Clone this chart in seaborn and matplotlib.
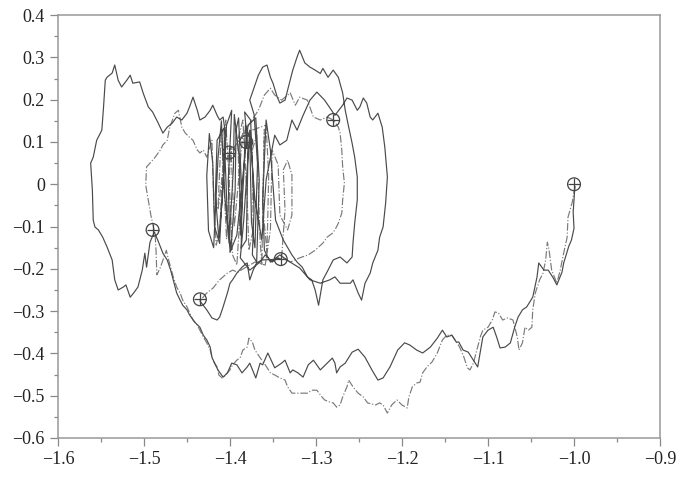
import numpy as np
import pandas as pd
import seaborn as sns
import matplotlib.pyplot as plt
from matplotlib.ticker import MultipleLocator

# solid trajectory
solid_arc = [(-0.999, -0.005), (-1.000, -0.037), (-1.001, -0.066), (-1.000, -0.104), (-1.003, -0.132),
             (-1.006, -0.146), (-1.012, -0.186), (-1.014, -0.208), (-1.020, -0.238), (-1.024, -0.222),
             (-1.030, -0.203), (-1.035, -0.203), (-1.041, -0.186), (-1.043, -0.219), (-1.048, -0.267),
             (-1.055, -0.290), (-1.060, -0.297), (-1.065, -0.314), (-1.069, -0.338), (-1.074, -0.375),
             (-1.080, -0.385), (-1.086, -0.387), (-1.090, -0.361), (-1.094, -0.338), (-1.100, -0.345),
             (-1.106, -0.361), (-1.112, -0.432), (-1.117, -0.416), (-1.123, -0.397), (-1.129, -0.392),
             (-1.134, -0.373), (-1.137, -0.373), (-1.142, -0.357), (-1.148, -0.361), (-1.153, -0.345),
             (-1.159, -0.364)]
solid_bottom = [(-1.167, -0.385), (-1.176, -0.399), (-1.183, -0.392), (-1.191, -0.380), (-1.197, -0.375),
                (-1.205, -0.392), (-1.214, -0.432), (-1.222, -0.458), (-1.228, -0.463), (-1.235, -0.439),
                (-1.243, -0.409), (-1.251, -0.390), (-1.258, -0.397), (-1.266, -0.423), (-1.272, -0.432),
                (-1.276, -0.446), (-1.278, -0.423), (-1.281, -0.411), (-1.287, -0.423), (-1.295, -0.439),
                (-1.303, -0.416), (-1.309, -0.427), (-1.315, -0.456), (-1.321, -0.446), (-1.327, -0.439),
                (-1.330, -0.446), (-1.336, -0.416), (-1.340, -0.423), (-1.348, -0.434), (-1.356, -0.399),
                (-1.362, -0.427), (-1.365, -0.423), (-1.370, -0.458), (-1.377, -0.423), (-1.380, -0.432),
                (-1.386, -0.446), (-1.392, -0.427), (-1.398, -0.423), (-1.403, -0.446), (-1.408, -0.456),
                (-1.414, -0.439), (-1.417, -0.427), (-1.421, -0.409), (-1.423, -0.385), (-1.427, -0.368),
                (-1.431, -0.357), (-1.435, -0.338), (-1.441, -0.326), (-1.447, -0.309), (-1.450, -0.297),
                (-1.455, -0.286), (-1.458, -0.274), (-1.462, -0.257), (-1.465, -0.234), (-1.469, -0.203),
                (-1.473, -0.179), (-1.478, -0.163), (-1.484, -0.132), (-1.488, -0.113)]
solid_left = [(-1.493, -0.137), (-1.497, -0.196), (-1.499, -0.163), (-1.502, -0.203), (-1.507, -0.243),
              (-1.512, -0.257), (-1.516, -0.267), (-1.521, -0.238), (-1.524, -0.243), (-1.530, -0.250),
              (-1.534, -0.226), (-1.537, -0.179), (-1.543, -0.148), (-1.548, -0.125), (-1.553, -0.108),
              (-1.557, -0.101), (-1.559, -0.085), (-1.560, -0.014), (-1.562, 0.050), (-1.559, 0.064),
              (-1.555, 0.104), (-1.549, 0.128), (-1.547, 0.183), (-1.545, 0.246), (-1.543, 0.253),
              (-1.537, 0.263), (-1.534, 0.282), (-1.530, 0.246), (-1.526, 0.230), (-1.520, 0.246),
              (-1.516, 0.258), (-1.513, 0.239), (-1.505, 0.242), (-1.501, 0.216), (-1.495, 0.183),
              (-1.490, 0.171), (-1.484, 0.147), (-1.478, 0.121), (-1.473, 0.135), (-1.467, 0.145),
              (-1.462, 0.159), (-1.456, 0.152), (-1.450, 0.168), (-1.447, 0.183), (-1.443, 0.206),
              (-1.438, 0.175), (-1.435, 0.152), (-1.429, 0.159), (-1.423, 0.175), (-1.420, 0.187),
              (-1.415, 0.163), (-1.412, 0.152), (-1.408, 0.159)]
solid_center = [(-1.405, 0.116), (-1.409, -0.037), (-1.413, -0.127), (-1.417, -0.026), (-1.415, 0.104),
                (-1.407, 0.133), (-1.403, -0.085), (-1.399, -0.156), (-1.394, -0.014), (-1.393, 0.128),
                (-1.390, 0.157), (-1.386, -0.037), (-1.387, -0.151), (-1.381, -0.132), (-1.379, 0.081),
                (-1.383, 0.171), (-1.376, 0.152), (-1.372, -0.061), (-1.374, -0.167), (-1.369, -0.184),
                (-1.366, 0.010), (-1.370, 0.157), (-1.379, 0.140), (-1.392, -0.120), (-1.400, -0.161),
                (-1.402, 0.010), (-1.398, 0.175), (-1.404, 0.140), (-1.410, -0.060), (-1.412, -0.140),
                (-1.418, -0.100), (-1.420, 0.050), (-1.424, 0.120), (-1.427, 0.020), (-1.425, -0.110),
                (-1.419, -0.150), (-1.414, 0.060), (-1.410, 0.150), (-1.406, -0.030), (-1.401, -0.140),
                (-1.396, 0.040), (-1.395, 0.165), (-1.389, 0.060), (-1.388, -0.120), (-1.384, 0.020),
                (-1.382, 0.140), (-1.377, 0.110), (-1.375, -0.090), (-1.371, -0.150), (-1.368, 0.050),
                (-1.372, 0.165)]
solid_top = [(-1.377, 0.199), (-1.367, 0.258), (-1.362, 0.277), (-1.357, 0.282), (-1.353, 0.253),
             (-1.350, 0.239), (-1.345, 0.206), (-1.342, 0.192), (-1.336, 0.199), (-1.333, 0.223),
             (-1.327, 0.270), (-1.322, 0.301), (-1.319, 0.317), (-1.313, 0.287), (-1.307, 0.277),
             (-1.301, 0.270), (-1.295, 0.262), (-1.292, 0.274), (-1.286, 0.253), (-1.280, 0.270),
             (-1.274, 0.253), (-1.269, 0.216), (-1.266, 0.175), (-1.263, 0.145), (-1.258, 0.097),
             (-1.255, 0.064), (-1.252, 0.017), (-1.252, -0.037), (-1.255, -0.092), (-1.257, -0.139),
             (-1.258, -0.172), (-1.264, -0.186), (-1.272, -0.172), (-1.280, -0.179), (-1.286, -0.203),
             (-1.292, -0.226), (-1.297, -0.286), (-1.301, -0.250), (-1.305, -0.226), (-1.310, -0.219),
             (-1.316, -0.196), (-1.322, -0.184), (-1.328, -0.167), (-1.338, -0.132), (-1.347, -0.085),
             (-1.353, 0.081), (-1.358, 0.152), (-1.362, -0.037), (-1.360, -0.156), (-1.353, -0.184)]
solid_outer = [(-1.342, -0.167), (-1.330, -0.184), (-1.319, -0.198), (-1.307, -0.226), (-1.295, -0.234),
               (-1.284, -0.226), (-1.278, -0.219), (-1.272, -0.234), (-1.266, -0.234), (-1.260, -0.234),
               (-1.257, -0.226), (-1.251, -0.257), (-1.247, -0.274), (-1.243, -0.234), (-1.237, -0.210),
               (-1.234, -0.186), (-1.228, -0.156), (-1.226, -0.125), (-1.222, -0.101), (-1.219, -0.044),
               (-1.217, 0.017), (-1.220, 0.088), (-1.223, 0.135), (-1.228, 0.168), (-1.234, 0.152),
               (-1.237, 0.159), (-1.241, 0.192), (-1.245, 0.204), (-1.249, 0.183), (-1.252, 0.175),
               (-1.258, 0.199), (-1.264, 0.204), (-1.269, 0.187), (-1.278, 0.163), (-1.290, 0.199),
               (-1.299, 0.218), (-1.307, 0.199), (-1.315, 0.163), (-1.322, 0.128), (-1.328, 0.152),
               (-1.334, 0.104), (-1.342, 0.093), (-1.348, 0.116), (-1.358, 0.010), (-1.363, -0.132),
               (-1.371, -0.037), (-1.377, 0.128), (-1.384, -0.085), (-1.388, -0.174)]
solid_end = [(-1.377, -0.203), (-1.365, -0.184), (-1.359, -0.167), (-1.351, -0.184), (-1.344, -0.174),
             (-1.341, -0.177), (-1.363, -0.179), (-1.369, -0.186), (-1.373, -0.203), (-1.377, -0.226),
             (-1.380, -0.186), (-1.386, -0.196), (-1.392, -0.210), (-1.397, -0.226), (-1.400, -0.234),
             (-1.403, -0.257), (-1.408, -0.290), (-1.412, -0.314), (-1.415, -0.321), (-1.421, -0.316),
             (-1.427, -0.297), (-1.435, -0.276)]

# dash-dot trajectory
dash_arc = [(-0.999, -0.005), (-1.002, -0.042), (-1.007, -0.078), (-1.008, -0.125), (-1.013, -0.172),
            (-1.016, -0.203), (-1.020, -0.234), (-1.026, -0.203), (-1.029, -0.156), (-1.031, -0.137),
            (-1.033, -0.179), (-1.036, -0.210), (-1.040, -0.226), (-1.045, -0.257), (-1.048, -0.297),
            (-1.049, -0.338), (-1.053, -0.345), (-1.057, -0.338), (-1.060, -0.375), (-1.064, -0.392),
            (-1.066, -0.361), (-1.071, -0.321), (-1.077, -0.316), (-1.083, -0.321), (-1.088, -0.304),
            (-1.092, -0.302), (-1.095, -0.321), (-1.100, -0.338), (-1.106, -0.345), (-1.109, -0.361),
            (-1.113, -0.392), (-1.117, -0.423), (-1.121, -0.439), (-1.124, -0.434), (-1.128, -0.409),
            (-1.133, -0.385), (-1.136, -0.375), (-1.142, -0.357), (-1.148, -0.357), (-1.153, -0.368),
            (-1.159, -0.399), (-1.165, -0.420), (-1.171, -0.432), (-1.176, -0.446), (-1.179, -0.468)]
dash_bottom = [(-1.183, -0.470), (-1.188, -0.479), (-1.192, -0.503), (-1.194, -0.529), (-1.200, -0.522),
               (-1.206, -0.510), (-1.212, -0.522), (-1.217, -0.541), (-1.222, -0.522), (-1.226, -0.517),
               (-1.231, -0.522), (-1.240, -0.517), (-1.245, -0.503), (-1.251, -0.494), (-1.257, -0.479),
               (-1.262, -0.463), (-1.264, -0.479), (-1.269, -0.503), (-1.272, -0.522), (-1.276, -0.527),
               (-1.280, -0.517), (-1.284, -0.515), (-1.290, -0.510), (-1.293, -0.503), (-1.299, -0.487),
               (-1.305, -0.487), (-1.310, -0.494), (-1.316, -0.494), (-1.322, -0.494), (-1.328, -0.494),
               (-1.333, -0.479), (-1.336, -0.463), (-1.342, -0.458), (-1.348, -0.451), (-1.353, -0.446),
               (-1.359, -0.427), (-1.363, -0.416), (-1.367, -0.404), (-1.371, -0.392), (-1.374, -0.373),
               (-1.378, -0.364), (-1.380, -0.385), (-1.385, -0.392), (-1.388, -0.409), (-1.392, -0.416),
               (-1.397, -0.427), (-1.400, -0.439), (-1.405, -0.451), (-1.409, -0.458), (-1.413, -0.451),
               (-1.415, -0.432), (-1.420, -0.416), (-1.423, -0.392), (-1.427, -0.375), (-1.431, -0.361),
               (-1.435, -0.345), (-1.438, -0.333), (-1.443, -0.321), (-1.447, -0.304), (-1.450, -0.290),
               (-1.455, -0.274), (-1.458, -0.257), (-1.462, -0.243), (-1.466, -0.219), (-1.469, -0.196),
               (-1.472, -0.174)]
dash_left = [(-1.474, -0.156), (-1.481, -0.197), (-1.485, -0.214), (-1.486, -0.156), (-1.487, -0.120),
             (-1.492, -0.073), (-1.495, -0.037), (-1.498, -0.002), (-1.497, 0.041), (-1.493, 0.050),
             (-1.487, 0.064), (-1.481, 0.081), (-1.478, 0.093), (-1.473, 0.104), (-1.470, 0.135),
             (-1.464, 0.168), (-1.460, 0.175), (-1.456, 0.135), (-1.452, 0.121), (-1.447, 0.111),
             (-1.443, 0.104), (-1.438, 0.081), (-1.435, 0.074), (-1.431, 0.081), (-1.427, 0.064)]
dash_center = [(-1.421, 0.104), (-1.419, -0.037), (-1.416, -0.144), (-1.412, -0.108), (-1.408, 0.057),
               (-1.405, 0.152), (-1.401, 0.010), (-1.397, -0.167), (-1.392, -0.191), (-1.388, -0.061),
               (-1.391, 0.104), (-1.385, 0.152), (-1.380, -0.037), (-1.378, -0.156), (-1.373, -0.108),
               (-1.374, 0.081), (-1.369, 0.116), (-1.365, -0.132), (-1.363, -0.191), (-1.360, 0.130),
               (-1.362, -0.050), (-1.357, -0.160), (-1.355, 0.020), (-1.358, 0.140), (-1.385, 0.120),
               (-1.395, -0.100), (-1.399, 0.090), (-1.404, -0.130), (-1.410, 0.130), (-1.414, -0.060),
               (-1.407, 0.050), (-1.367, 0.175)]
dash_right = [(-1.360, 0.211), (-1.353, 0.227), (-1.348, 0.211), (-1.340, 0.199), (-1.330, 0.216),
              (-1.324, 0.187), (-1.319, 0.206), (-1.310, 0.199), (-1.303, 0.159), (-1.295, 0.152),
              (-1.287, 0.159), (-1.280, 0.152), (-1.274, 0.135), (-1.272, 0.121), (-1.270, 0.081),
              (-1.269, 0.041), (-1.267, 0.003), (-1.269, -0.037), (-1.270, -0.068), (-1.274, -0.092),
              (-1.278, -0.108), (-1.281, -0.116), (-1.287, -0.125), (-1.292, -0.139), (-1.301, -0.156),
              (-1.309, -0.167), (-1.319, -0.174), (-1.330, -0.184), (-1.340, -0.174), (-1.336, -0.061),
              (-1.338, 0.034), (-1.333, 0.057), (-1.328, 0.022), (-1.328, -0.073), (-1.333, -0.108),
              (-1.342, -0.073), (-1.344, 0.046), (-1.351, 0.081), (-1.353, -0.108), (-1.359, -0.191)]
dash_end = [(-1.371, -0.184), (-1.383, -0.198), (-1.391, -0.208), (-1.397, -0.203), (-1.403, -0.210),
            (-1.412, -0.226), (-1.420, -0.246), (-1.427, -0.257), (-1.435, -0.276)]

# circled-plus waypoints
marker_x = [-1.000, -1.490, -1.435, -1.341, -1.401, -1.381, -1.280]
marker_y = [0.000, -0.108, -0.272, -0.177, 0.075, 0.100, 0.152]

x_ticks = [-1.6, -1.5, -1.4, -1.3, -1.2, -1.1, -1.0, -0.9]
x_labels = ['\u22121.6', '\u22121.5', '\u22121.4', '\u22121.3', '\u22121.2', '\u22121.1', '\u22121.0', '\u22120.9']
y_ticks = [-0.6, -0.5, -0.4, -0.3, -0.2, -0.1, 0.0, 0.1, 0.2, 0.3, 0.4]
y_labels = ['\u22120.6', '\u22120.5', '\u22120.4', '\u22120.3', '\u22120.2', '\u22120.1',
            '0', '0.1', '0.2', '0.3', '0.4']

solid = pd.DataFrame(solid_arc + solid_bottom + solid_left + solid_center + solid_top + solid_outer + solid_end,
                     columns=['x', 'y'])
dashdot = pd.DataFrame(dash_arc + dash_bottom + dash_left + dash_center + dash_right + dash_end,
                       columns=['x', 'y'])
marks = pd.DataFrame({'x': marker_x, 'y': marker_y})

sns.set_style('white')
plt.rcParams['font.family'] = 'serif'
plt.rcParams['font.serif'] = ['Liberation Serif', 'DejaVu Serif']

fig = plt.figure(figsize=(6.78, 4.8), dpi=100)
ax = fig.add_axes([0.0855, 0.0875, 0.888, 0.881])

sns.lineplot(data=dashdot, x='x', y='y', sort=False, estimator=None, ax=ax,
             color='#7a7a7a', linewidth=0.85, linestyle='-.')
sns.lineplot(data=solid, x='x', y='y', sort=False, estimator=None, ax=ax,
             color='#4a4a4a', linewidth=0.85)
sns.scatterplot(data=marks, x='x', y='y', ax=ax, marker='o', s=85,
                facecolor='none', edgecolor='#444444', linewidth=0.9, zorder=5)
sns.scatterplot(data=marks, x='x', y='y', ax=ax, marker='+', s=85,
                color='#444444', linewidth=0.9, zorder=5)

ax.set_xlim(-1.6, -0.9)
ax.set_ylim(-0.6, 0.4)
ax.set_xticks(x_ticks)
ax.set_xticklabels(x_labels)
ax.set_yticks(y_ticks)
ax.set_yticklabels(y_labels)
ax.xaxis.set_minor_locator(MultipleLocator(0.05))
ax.yaxis.set_minor_locator(MultipleLocator(0.05))
ax.tick_params(which='major', direction='out', length=6, width=0.9, color='#888888',
               labelsize=13, labelcolor='#222222', left=True, bottom=True)
ax.tick_params(which='minor', direction='out', length=3, width=0.9, color='#888888',
               left=True, bottom=True)
ax.set_xlabel('')
ax.set_ylabel('')
for sp in ax.spines.values():
    sp.set_color('#999999')
    sp.set_linewidth(1.1)

fig.savefig('out.png', dpi=100)
